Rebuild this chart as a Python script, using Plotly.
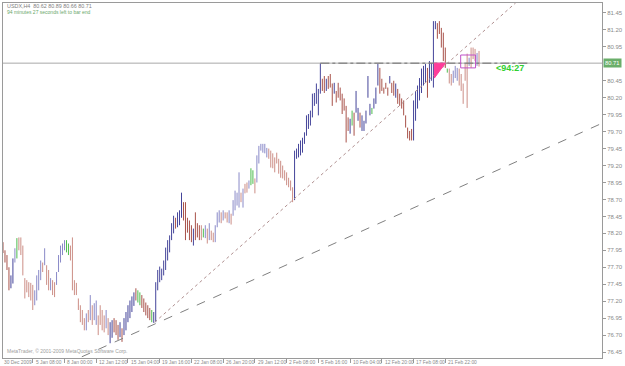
import plotly.graph_objects as go

# ---- data (USDX, H4) ----
high = [78.07,77.95,77.88,77.70,77.58,77.83,77.98,78.13,78.14,78.14,
        78.02,77.54,77.51,77.48,77.47,77.44,77.36,77.58,77.66,77.80,
        77.77,77.98,77.73,77.66,77.54,77.51,77.48,77.63,77.88,78.02,
        78.05,78.10,78.10,78.05,78.02,78.14,77.51,77.47,77.24,77.14,
        77.07,76.95,77.02,77.07,77.29,77.14,77.17,77.21,76.99,77.14,
        77.07,76.99,77.07,76.95,76.89,76.92,76.95,76.92,76.85,76.89,
        76.80,76.95,77.04,77.14,77.21,77.27,77.33,77.39,77.36,77.33,
        77.29,77.24,77.18,77.14,77.10,77.07,77.04,77.48,77.66,77.71,
        77.68,77.80,77.99,78.10,78.17,78.35,78.46,78.43,78.51,78.54,
        78.80,78.66,78.66,78.43,78.39,78.32,78.27,78.51,78.35,78.32,
        78.32,78.27,78.32,78.27,78.35,78.24,78.21,78.32,78.51,78.54,
        78.51,78.54,78.51,78.51,78.54,78.49,78.69,78.83,78.80,79.10,
        78.80,78.86,78.93,78.95,78.98,79.16,79.13,79.01,79.35,79.49,
        79.52,79.52,79.52,79.46,79.45,79.42,79.38,79.32,79.39,79.30,
        79.27,79.20,79.13,79.10,79.02,78.98,78.88,79.42,79.45,79.52,
        79.57,79.61,79.69,79.94,79.96,80.01,80.26,80.27,80.41,80.33,
        80.71,80.48,80.52,80.48,80.52,80.55,80.41,80.42,80.30,80.42,
        80.35,80.26,80.19,80.08,79.91,79.89,80.01,79.98,80.30,80.05,
        79.98,79.94,79.86,80.01,80.52,80.11,80.05,80.19,80.35,80.70,
        80.64,80.48,80.35,80.42,80.35,80.52,80.42,80.45,80.41,80.33,
        80.26,80.19,80.16,79.94,79.76,79.71,79.74,80.16,80.30,80.38,
        80.49,80.63,80.67,80.70,80.64,80.74,80.71,81.33,81.33,81.30,
        81.33,81.23,81.16,80.94,80.63,80.63,80.55,80.60,80.67,80.64,
        80.63,80.55,80.41,80.70,80.85,80.79,80.94,80.94,80.92,80.86,
        80.89]
low = [77.91,77.77,77.66,77.36,77.39,77.46,77.77,77.83,77.95,77.88,
       77.58,77.24,77.33,77.26,77.21,77.07,77.14,77.21,77.36,77.51,
       77.63,77.73,77.44,77.36,77.36,77.29,77.26,77.44,77.63,77.77,
       77.88,77.95,77.92,77.88,77.80,77.36,77.29,77.29,77.07,76.89,
       76.85,76.77,76.77,76.89,76.92,76.85,76.92,76.85,76.70,76.85,
       76.77,76.74,76.80,76.70,76.58,76.66,76.74,76.70,76.63,76.67,
       76.60,76.70,76.77,76.89,76.95,77.04,77.13,77.21,77.18,77.14,
       77.10,77.04,76.99,76.95,76.92,76.89,76.88,76.89,77.36,77.48,
       77.51,77.58,77.66,77.80,77.92,78.10,78.20,78.27,78.29,78.32,
       78.43,78.39,78.10,78.21,78.10,78.07,78.02,78.10,78.14,78.10,
       78.10,78.14,78.13,78.05,78.10,78.10,78.07,78.07,78.29,78.36,
       78.35,78.39,78.42,78.36,78.35,78.33,78.46,78.54,78.61,78.58,
       78.66,78.58,78.79,78.80,78.86,78.91,78.93,78.79,78.95,79.23,
       79.42,79.39,79.38,79.32,79.30,79.17,79.16,79.10,79.23,79.08,
       79.02,79.01,78.98,78.91,78.88,78.83,78.66,78.69,79.30,79.32,
       79.35,79.39,79.52,79.64,79.74,79.79,79.91,80.08,80.11,79.94,
       80.26,80.30,80.27,80.30,80.33,80.35,80.08,80.26,80.13,80.20,
       80.16,79.96,80.01,79.54,79.71,79.67,79.79,79.64,79.98,79.86,
       79.76,79.71,79.71,79.82,80.20,79.94,79.96,80.04,80.11,80.38,
       80.26,80.30,80.26,80.33,80.23,80.41,80.27,80.23,80.20,80.11,
       80.08,80.04,79.94,79.76,79.60,79.57,79.57,79.57,79.86,80.04,
       80.16,80.27,80.38,80.42,80.20,80.42,80.45,80.35,81.21,81.07,
       81.14,80.94,80.74,80.64,80.57,80.41,80.38,80.42,80.49,80.45,
       80.38,80.30,80.11,80.45,80.05,80.67,80.64,80.77,80.74,80.67,
       80.66]
# bar colour codes: B dark up, R dark down, b pale up, r pale down, G green
bar_kind = ("RRRR" "BB" "b" "G" "rrrrrrrr" "bbbb" "r" "b" "rr" "b" "rr" "bbbbb"
            "GG" "rrrrrrrr" "b" "r" "b" "r" "bb" "r" "rrr" "b" "r" "BB" "RRR" "B"
            "R" "BBBBBB" "R" "GG" "RRRRR" "G" "BBBBBBBBBBB" "R" "BBB" "RRRRR" "B"
            "RRR" "r" "G" "b" "r" "b" "rr" "bbb" "r" "b" "rr" "b" "r" "bbbb" "r"
            "b" "rr" "b" "GG" "r" "bbbbbb" "rrrrrrrrrrrrr" "BBBBBBBBBBBBBB" "RR"
            "B" "RRR" "B" "RRRRRRR" "B" "G" "R" "BB" "R" "BBBBB" "G" "BBB" "RRRRR"
            "B" "RR" "B" "RRRRRRRR" "BBBBBBB" "R" "BBBB" "RRRRR" "G" "rr" "bbb"
            "rrrrr" "b" "rrr" "b" "r")
kind_color = {"B": "#45459a", "R": "#a8524a", "b": "#8a8ac8", "r": "#cc8e86", "G": "#4cbc4c"}

time_tick_bars = [-1, 15, 31, 47, 63, 79, 95, 111, 127, 143, 159, 175, 191, 207, 223]
time_labels = ["30 Dec 2009", "5 Jan 08:00", "8 Jan 00:00", "12 Jan 12:00", "15 Jan 04:00",
               "19 Jan 16:00", "22 Jan 08:00", "26 Jan 20:00", "29 Jan 12:00", "2 Feb 08:00",
               "5 Feb 16:00", "10 Feb 04:00", "12 Feb 20:00", "17 Feb 08:00", "21 Feb 22:00"]
price_ticks = [81.45, 81.20, 80.95, 80.45, 80.20, 79.95, 79.70, 79.45, 79.20, 78.95,
               78.70, 78.45, 78.20, 77.95, 77.70, 77.45, 77.20, 76.95, 76.70, 76.45]
bid = 80.71
# drawn objects (bar index, price)
trend_dotted = [(76.5, 76.89), (258.5, 81.60)]
trend_dashed = [(39.75, 76.38), (301.75, 79.82)]
resist_line = [(160, 265), 80.71]
pink_tri = [(217.5, 80.71), (223.0, 80.71), (217.5, 80.49)]
purple_box = [(230.75, 238.25), (80.64, 80.83)]

assert len(high) == len(low) == len(bar_kind), (len(high), len(low), len(bar_kind))

X0, X1 = 0.0, 302.0  # x axis range in bar units

fig = go.Figure()
for k, col in kind_color.items():
    xs, ys = [], []
    for i, (h, l, kk) in enumerate(zip(high, low, bar_kind)):
        if kk == k:
            xs += [i, i, None]
            ys += [l, h, None]
    fig.add_trace(go.Scatter(x=xs, y=ys, mode="lines", line=dict(color=col, width=1),
                             hoverinfo="skip", showlegend=False, connectgaps=False))

grey = "#9a9a9a"
font = "Liberation Sans, Arial, sans-serif"
shapes = [
    dict(type="line", xref="paper", x0=0, x1=1, yref="y", y0=bid, y1=bid,
         line=dict(color="#a8a8a8", width=1)),
    dict(type="line", xref="x", yref="y", x0=resist_line[0][0], x1=resist_line[0][1],
         y0=resist_line[1], y1=resist_line[1], line=dict(color="#6e6e6e", width=1, dash="dashdot")),
    dict(type="line", xref="x", yref="y", x0=trend_dotted[0][0], y0=trend_dotted[0][1],
         x1=trend_dotted[1][0], y1=trend_dotted[1][1], line=dict(color="#b09090", width=1, dash="dot")),
    dict(type="line", xref="x", yref="y", x0=trend_dashed[0][0], y0=trend_dashed[0][1],
         x1=trend_dashed[1][0], y1=trend_dashed[1][1], line=dict(color="#808080", width=1, dash="dash")),
    dict(type="path", xref="x", yref="y",
         path="M %s,%s L %s,%s L %s,%s Z" % (pink_tri[0] + pink_tri[1] + pink_tri[2]),
         fillcolor="#ff3d9a", line=dict(color="#ff3d9a", width=1)),
    dict(type="rect", xref="x", yref="y", x0=purple_box[0][0], x1=purple_box[0][1],
         y0=purple_box[1][0], y1=purple_box[1][1], line=dict(color="#c050c8", width=1)),
]

ann = []
for b, t in zip(time_tick_bars, time_labels):
    ann.append(dict(x=(b + 0.4 - X0) / (X1 - X0), xref="paper", xanchor="left",
                    y=-4.5 / 356, yref="paper", yanchor="middle",
                    text=t, showarrow=False, font=dict(size=4.9, color="#8a8a8a", family=font)))
ann += [
    dict(x=0.003, y=(358 - 5) / 356, xref="paper", yref="paper", xanchor="left", yanchor="middle",
         text="USDX,H4  80.62 80.89 80.66 80.71", showarrow=False,
         font=dict(size=5.4, color="#808080", family=font)),
    dict(x=0.003, y=(358 - 11) / 356, xref="paper", yref="paper", xanchor="left", yanchor="middle",
         text="94 minutes 27 seconds left to bar end", showarrow=False,
         font=dict(size=5.0, color="#6aa86a", family=font)),
    dict(x=0.003, y=(358 - 351) / 356, xref="paper", yref="paper", xanchor="left", yanchor="middle",
         text="MetaTrader, © 2001-2009 MetaQuotes Software Corp.", showarrow=False,
         font=dict(size=5.0, color="#a0a0a0", family=font)),
    dict(x=247.3, xref="x", y=80.64, yref="y", xanchor="left", yanchor="middle",
         text="<b><94:27</b>", showarrow=False, font=dict(size=9, color="#30d030", family=font)),
    dict(x=1, xref="paper", xshift=1, y=bid, yref="y", xanchor="left", yanchor="middle",
         text="80.71", showarrow=False, bgcolor="#6aae6a", borderpad=1,
         font=dict(size=5.8, color="#ffffff", family=font)),
]

fig.update_layout(
    width=625, height=366, margin=dict(l=2, r=19, t=2, b=8),
    paper_bgcolor="white", plot_bgcolor="white",
    shapes=shapes, annotations=ann,
    xaxis=dict(range=[X0, X1], showgrid=False, zeroline=False, showline=True, mirror=True,
               linecolor=grey, linewidth=1, tickmode="array", tickvals=time_tick_bars,
               showticklabels=False, ticks="outside", ticklen=4, tickcolor=grey),
    yaxis=dict(range=[76.362, 81.597], side="right", showgrid=False, zeroline=False, showline=True,
               mirror=True, linecolor=grey, linewidth=1, tickmode="array", tickvals=price_ticks,
               ticktext=["%.2f" % v for v in price_ticks], ticks="outside", ticklen=3,
               tickcolor=grey, tickfont=dict(size=6, color="#8a8a8a", family=font)),
)
fig.write_html("out.html")
